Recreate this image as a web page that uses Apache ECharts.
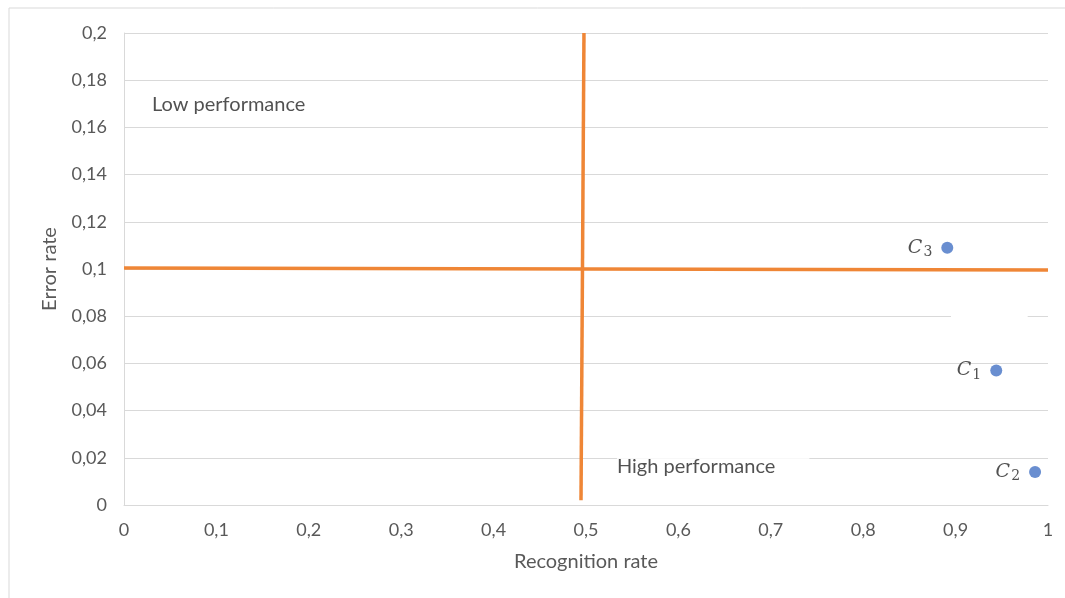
<!DOCTYPE html>
<html>
<head>
<meta charset="utf-8">
<script src="https://cdn.jsdelivr.net/npm/echarts@6/dist/echarts.min.js"></script>
<style>html,body{margin:0;padding:0;background:#fff}#c{width:1065px;height:598px}</style>
</head>
<body>
<div id="c"></div>
<script>
const xTicks = {min: 0, max: 1, interval: 0.1};
const yTicks = {min: 0, max: 0.2, interval: 0.02};
const pointNames = ['C1', 'C2', 'C3'];
const pointSubs = ['1', '2', '3'];
const recognition = [0.944, 0.986, 0.891];
const errorRate = [0.057, 0.014, 0.109];
const vLine = [[0.4978, 0.2], [0.4946, 0.002]];
const hLine = [[0, 0.1004], [1, 0.0996]];
const regionLabels = ['Low performance', 'High performance'];
const regionPos = [[0.0303, 0.1695], [0.5335, 0.0165]];

const fmt = v => v === 0 ? '0' : String(+v.toFixed(2)).replace('.', ',');
const chart = echarts.init(document.getElementById('c'));
const font = 'Lato, "Open Sans", sans-serif';

chart.setOption({
  animation: false,
  backgroundColor: '#fff',
  graphic: [{type: 'rect', shape: {x: 9, y: 8, width: 1200, height: 800}, style: {fill: 'none', stroke: '#d9d9d9', lineWidth: 1}, silent: true, z: -10}],
  grid: {left: 124, right: 17, top: 33, bottom: 93},
  xAxis: {
    type: 'value', min: xTicks.min, max: xTicks.max, interval: xTicks.interval,
    name: 'Recognition rate', nameLocation: 'middle', nameGap: 47,
    nameTextStyle: {color: '#595959', fontSize: 20, fontFamily: font},
    axisLine: {show: true, lineStyle: {color: '#d9d9d9', width: 1}},
    axisTick: {show: false},
    axisLabel: {color: '#595959', fontSize: 18, fontFamily: font, margin: 16, formatter: fmt},
    splitLine: {show: false}
  },
  yAxis: {
    type: 'value', min: yTicks.min, max: yTicks.max, interval: yTicks.interval,
    name: 'Error rate', nameLocation: 'middle', nameGap: 64,
    nameTextStyle: {color: '#595959', fontSize: 20, fontFamily: font},
    axisLine: {show: true, lineStyle: {color: '#d9d9d9', width: 1}},
    axisTick: {show: false},
    axisLabel: {color: '#595959', fontSize: 18, fontFamily: font, margin: 17, formatter: fmt},
    splitLine: {show: true, lineStyle: {color: '#d9d9d9', width: 1}}
  },
  series: [
    {
      type: 'line', data: hLine, showSymbol: false, symbol: 'none',
      lineStyle: {color: '#EF8636', width: 3.5}, z: 3,
      markArea: {silent: true, itemStyle: {color: '#fff'}, data: [[{coord: [0.895, 0.077]}, {coord: [0.978, 0.083]}]]}
    },
    {type: 'line', data: vLine, showSymbol: false, symbol: 'none', lineStyle: {color: '#EF8636', width: 3.5}, z: 3},
    {
      type: 'scatter', symbolSize: 0, z: 4,
      data: regionPos.map((p, i) => ({value: p, name: regionLabels[i]})),
      label: {
        show: true, position: 'right', distance: 0,
        formatter: p => p.name,
        color: '#262626', fontSize: 20, fontFamily: font,
        backgroundColor: '#fff', padding: [4, 34, 4, 0]
      }
    },
    {
      type: 'scatter', symbolSize: 12, z: 5,
      itemStyle: {color: '#4472C4'},
      data: recognition.map((x, i) => ({value: [x, errorRate[i]], name: pointNames[i], sub: pointSubs[i]})),
      label: {
        show: true, position: 'left', distance: 9,
        formatter: p => '{c|C}{s|' + pointSubs[p.dataIndex] + '}',
        rich: {
          c: {fontFamily: '"DejaVu Serif", serif', fontStyle: 'italic', fontSize: 19, color: '#262626'},
          s: {fontFamily: '"DejaVu Serif", serif', fontSize: 14, color: '#262626', verticalAlign: 'bottom', padding: [9, 0, 0, 1]}
        }
      }
    }
  ]
});
</script>
</body>
</html>
